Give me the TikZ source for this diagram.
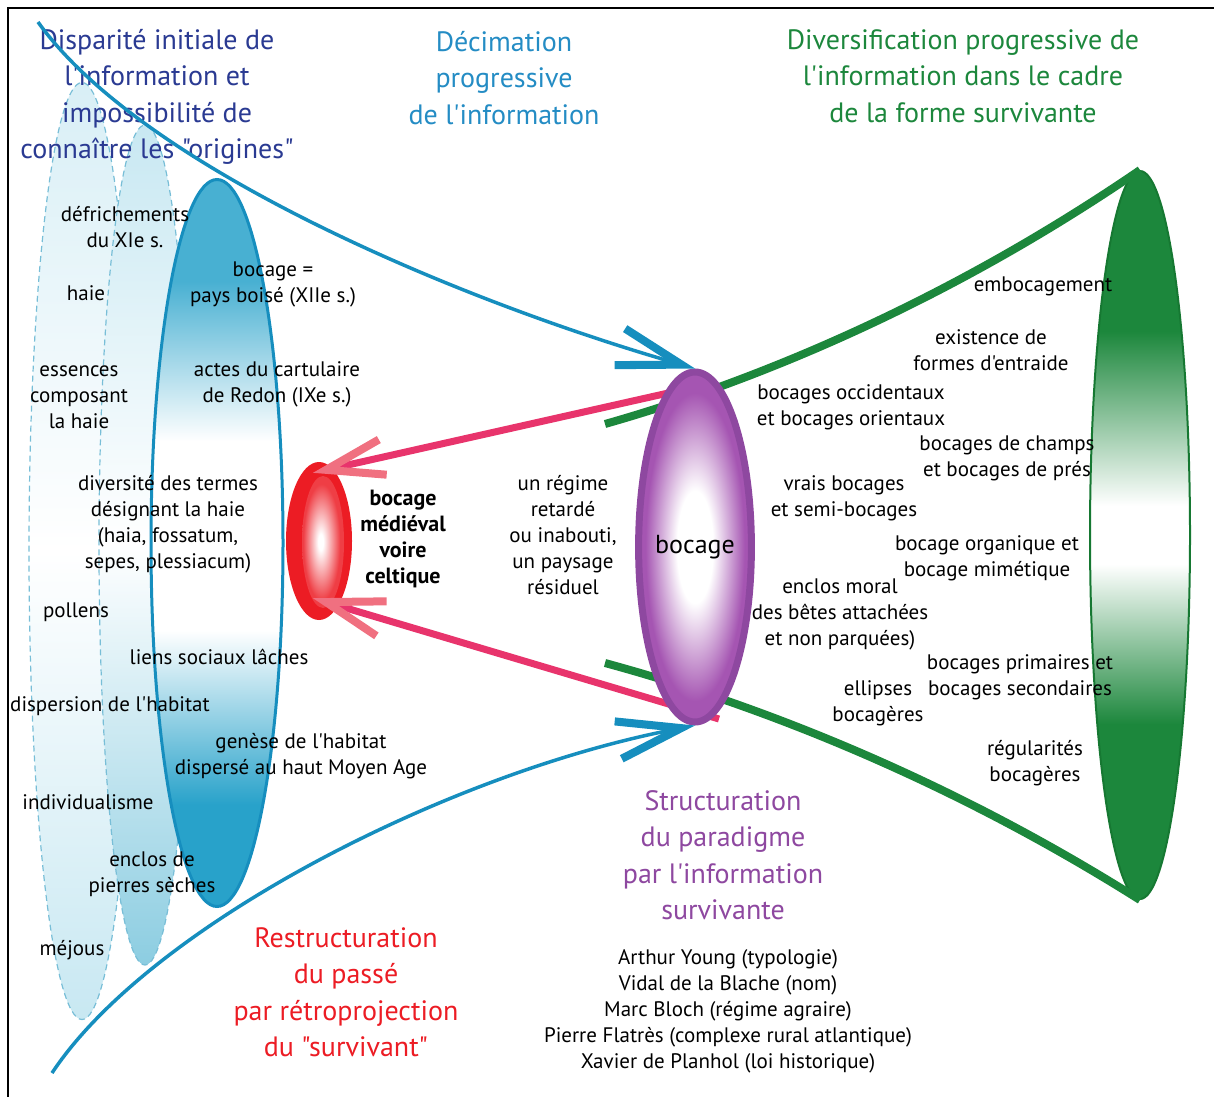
\documentclass[tikz,border=0pt]{standalone}
\usepackage{fontspec}
\setmainfont{PT Sans}[Ligatures=TeXOff]
\usetikzlibrary{shapes.geometric,arrows.meta,calc}

\definecolor{titleblue}{RGB}{42,58,146}
\definecolor{declineblue}{RGB}{36,140,196}
\definecolor{growgreen}{RGB}{28,135,60}
\definecolor{leafdark}{RGB}{22,120,50}
\definecolor{pastred}{RGB}{236,28,36}
\definecolor{paradigm}{RGB}{142,72,160}
\definecolor{purplefill}{RGB}{165,85,178}
\definecolor{streamblue}{RGB}{22,142,190}
\definecolor{deepblue}{RGB}{40,162,202}
\definecolor{hazelight}{RGB}{200,232,242}
\definecolor{hazedark}{RGB}{140,205,225}
\definecolor{dashblue}{RGB}{120,190,215}
\definecolor{pinkline}{RGB}{232,52,108}
\definecolor{pinktip}{RGB}{240,112,128}

\pgfdeclareradialshading{glow}{\pgfpoint{0bp}{0bp}}{color(0bp)=(white); color(8bp)=(white); color(22bp)=(purplefill); color(50bp)=(purplefill)}
\pgfdeclareradialshading{ember}{\pgfpoint{-3bp}{0bp}}{color(0bp)=(white); color(3bp)=(white); color(22bp)=(pastred!85); color(50bp)=(pastred!85)}
\pgfdeclareverticalshading{tide}{100bp}{color(0bp)=(deepblue); color(32bp)=(deepblue); color(44bp)=(white); color(57bp)=(white); color(68bp)=(deepblue!85); color(100bp)=(deepblue!85)}
\pgfdeclareverticalshading{meadow}{100bp}{color(0bp)=(growgreen); color(37bp)=(growgreen); color(48bp)=(white); color(52bp)=(white); color(64bp)=(growgreen); color(100bp)=(growgreen)}

\tikzset{
  lbl/.style={font=\fontsize{21}{26}\selectfont, align=center, inner sep=0pt},
  ttl/.style={font=\fontsize{28}{36.5}\selectfont, align=center, inner sep=0pt},
  mist/.style={ellipse, draw=dashblue, line width=1.2pt, dash pattern=on 6pt off 4pt, inner sep=0pt},
  flow/.style={streamblue, line width=3.5pt, -{Straight Barb[length=64pt 0, width=38pt 0, line width=0pt 2.3]}},
  backflow/.style={pinkline, line width=7pt, -{Straight Barb[length=58pt 0, width=36pt 0, color=pinktip, line width=1pt 1]}},
  branch/.style={growgreen, line width=8pt},
}

\begin{document}
\begin{tikzpicture}[x=1pt, y=-1pt]
  \useasboundingbox (0,0) rectangle (1214,1097);
  \draw[line width=2pt] (1214,8) -| (8,1097);

  \node[mist, top color=hazelight!70, bottom color=hazelight, middle color=white, minimum width=106, minimum height=937] (haze1) at (82,551) {};
  \node[mist, top color=hazelight, bottom color=hazedark, middle color=white, minimum width=92, minimum height=840] (haze2) at (145,545) {};
  \node[ellipse, draw=streamblue, line width=3pt, shade, shading=tide, inner sep=0pt, minimum width=132, minimum height=727] (source) at (217,543) {};

  \node[ellipse, fill=pastred, inner sep=0pt, minimum width=66, minimum height=158] (celtic) at (319,541) {};
  \node[ellipse, shade, shading=ember, inner sep=0pt, minimum width=42, minimum height=132] (celticcore) at (323,542) {};

  \coordinate (hub) at (695,547);
  \coordinate (sprout1) at (605,424);
  \coordinate (sprout2) at (605,663);
  \coordinate (dawn) at (38,22);
  \coordinate (dusk) at (52,1073);

  \node[ellipse, draw=leafdark, line width=2pt, shade, shading=meadow, inner sep=0pt, minimum width=100, minimum height=728] (vert) at (1140,535) {};

  \draw[backflow] ($(hub)+(0,-160)$) -- ($(celtic.north)+(-6,11)$);
  \draw[backflow] ($(hub)+(24,172)$) -- ($(celtic.south)+(-6,-22)$);
  \draw[branch] (sprout1) .. controls (760,380) and (950,300) .. (vert.north);
  \draw[branch] (sprout2) .. controls (760,705) and (950,780) .. (vert.south);

  \node[ellipse, draw=paradigm, line width=7pt, shade, shading=glow, inner sep=0pt, minimum width=106, minimum height=350, font=\fontsize{26}{30}\selectfont] (bocage) at (hub) {bocage};

  \node[ttl, titleblue] (disparite) at (157,97) {Disparité initiale de\\l'information et\\impossibilité de\\connaître les "origines"};
  \node[ttl, declineblue] (decimation) at (504,78) {Décimation\\progressive\\de l'information};
  \node[ttl, growgreen] (diversification) at (963,76) {Diversification progressive de\\l'information dans le cadre\\de la forme survivante};
  \node[ttl, pastred] (retro) at (346,992) {Restructuration\\du passé\\par rétroprojection\\du "survivant"};
  \node[ttl, paradigm] (structuration) at (723,855) {Structuration\\du paradigme\\par l'information\\survivante};
  \node[lbl] (auteurs) at (728,1011) {Arthur Young (typologie)\\Vidal de la Blache (nom)\\Marc Bloch (régime agraire)\\Pierre Flatrès (complexe rural atlantique)\\Xavier de Planhol (loi historique)};

  \node[lbl] (defrich) at (125,227) {défrichements\\du XIe s.};
  \node[lbl] (haie) at (86,293) {haie};
  \node[lbl] (boise) at (273,284) {bocage =\\pays boisé (XIIe s.)};
  \node[lbl] (essences) at (79,397) {essences\\composant\\la haie};
  \node[lbl] (redon) at (277,384) {actes du cartulaire\\de Redon (IXe s.)};
  \node[lbl] (termes) at (168,524) {diversité des termes\\désignant la haie\\(haia, fossatum,\\sepes, plessiacum)};
  \node[lbl] (pollens) at (76,612) {pollens};
  \node[lbl] (liens) at (219,657) {liens sociaux lâches};
  \node[lbl] (dispersion) at (110,706) {dispersion de l'habitat};
  \node[lbl] (genese) at (301,756) {genèse de l'habitat\\dispersé au haut Moyen Age};
  \node[lbl] (indiv) at (88,802) {individualisme};
  \node[lbl] (pierres) at (152,874) {enclos de\\pierres sèches};
  \node[lbl] (mejous) at (72,950) {méjous};

  \node[lbl, font=\fontsize{22}{26}\selectfont\bfseries] (medieval) at (403,539) {bocage\\médiéval\\voire\\celtique};
  \node[lbl] (retard) at (563,535) {un régime\\retardé\\ou inabouti,\\un paysage\\résiduel};

  \node[lbl] (emboc) at (1043,286) {embocagement};
  \node[lbl] (entraide) at (991,350) {existence de\\formes d'entraide};
  \node[lbl] (occident) at (851,407) {bocages occidentaux\\et bocages orientaux};
  \node[lbl] (champs) at (1007,458) {bocages de champs\\et bocages de prés};
  \node[lbl] (vrais) at (844,498) {vrais bocages\\et semi-bocages};
  \node[lbl] (organique) at (987,558) {bocage organique et\\bocage mimétique};
  \node[lbl] (moral) at (840,614) {enclos moral\\des bêtes attachées\\et non parquées)};
  \node[lbl] (primaires) at (1020,677) {bocages primaires et\\bocages secondaires};
  \node[lbl] (ellipses) at (878,703) {ellipses\\bocagères};
  \node[lbl] (regul) at (1035,763) {régularités\\bocagères};

  \draw[flow] (dawn) .. controls (140,165) and (450,298) .. (bocage.north);
  \draw[flow] (dusk) .. controls (150,925) and (450,772) .. (bocage.south);
\end{tikzpicture}
\end{document}
